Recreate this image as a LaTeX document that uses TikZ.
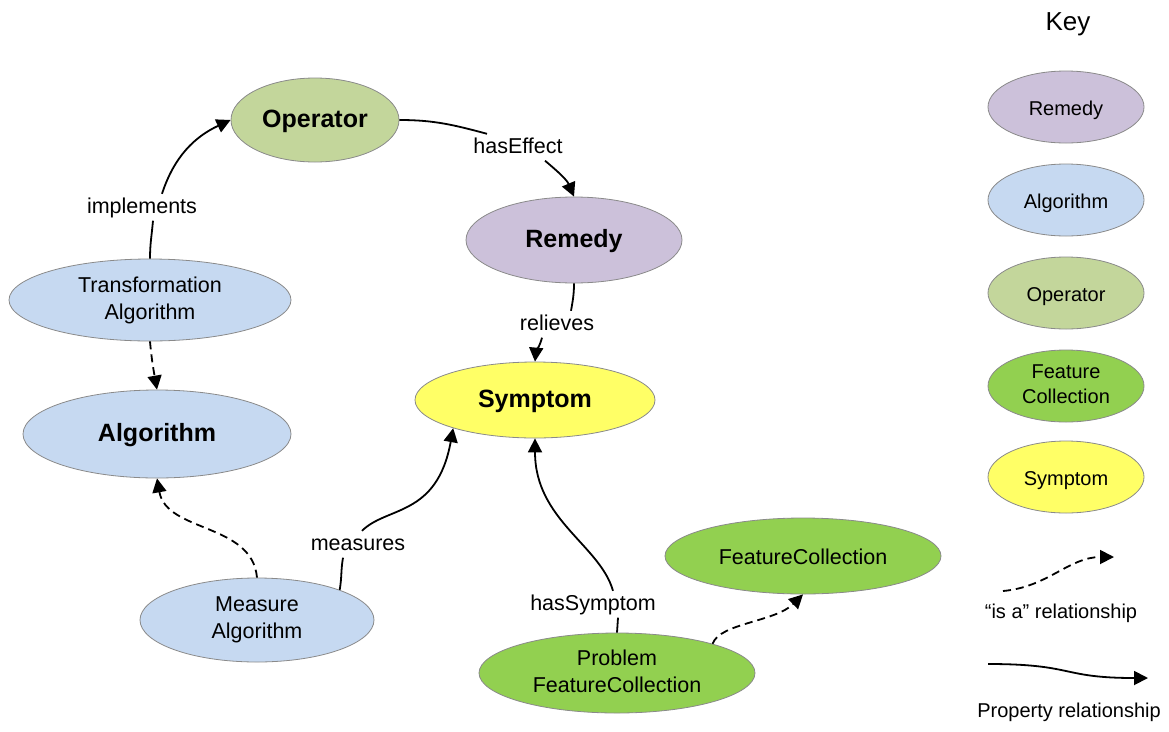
\documentclass[tikz,border=0pt]{standalone}
\usepackage{fontspec}
\setmainfont{Liberation Sans}
\usetikzlibrary{shapes.geometric,arrows.meta}

\definecolor{opgreen}{HTML}{C3D69B}
\definecolor{remlav}{HTML}{CCC1DA}
\definecolor{algblue}{HTML}{C6D9F1}
\definecolor{symyel}{HTML}{FFFF66}
\definecolor{fcgreen}{HTML}{92D050}
\definecolor{rim}{HTML}{8A8A8A}

\begin{document}
\begin{tikzpicture}[x=1pt,y=1pt,
  concept/.style={ellipse, draw=rim, line width=0.8pt, inner sep=0pt, align=center,
                  font=\fontsize{21.5}{27}\selectfont,
                  execute at begin node={\rule{0pt}{21pt}},
                  execute at end node={\rule[-4pt]{0pt}{4pt}}},
  big/.style={font=\fontsize{25}{30}\selectfont\bfseries},
  keyitem/.style={concept, minimum width=156pt, minimum height=72pt,
                  font=\fontsize{20}{25}\selectfont},
  rel/.style={inner xsep=2pt, inner ysep=3pt, anchor=base, text height=16pt,
              text depth=4.5pt, font=\fontsize{21.5}{26}\selectfont},
  keytext/.style={anchor=base, inner sep=0pt, font=\fontsize{20}{24}\selectfont},
  plain/.style={line width=1.8pt},
  prop/.style={line width=1.8pt, -{Triangle[length=14pt,width=14pt]}},
  isa/.style={prop, dash pattern=on 8pt off 5pt},
]
\useasboundingbox (0,0) rectangle (1169,-731);

% concept nodes
\node[concept, big, fill=opgreen, minimum width=168pt, minimum height=84pt] (op) at (315,-120) {Operator};
\node[concept, big, fill=remlav, minimum width=216pt, minimum height=86pt] (re) at (574,-240) {Remedy};
\node[concept, fill=algblue, minimum width=282pt, minimum height=82pt] (ta) at (150,-300) {Transformation\\Algorithm};
\node[concept, big, fill=algblue, minimum width=268pt, minimum height=88pt] (alg) at (157,-434) {Algorithm};
\node[concept, fill=algblue, minimum width=234pt, minimum height=84pt] (ma) at (257,-620) {Measure\\Algorithm};
\node[concept, big, fill=symyel, minimum width=240pt, minimum height=76pt] (sy) at (535,-400) {Symptom};
\node[concept, fill=fcgreen, minimum width=276pt, minimum height=76pt] (fc) at (803,-556) {FeatureCollection};
\node[concept, fill=fcgreen, minimum width=276pt, minimum height=80pt] (pfc) at (617,-673) {Problem\\FeatureCollection};

% relationship labels
\node[rel] (imp) at (142,-213) {implements};
\node[rel] (he) at (518,-153) {hasEffect};
\node[rel] (rl) at (557,-330) {relieves};
\node[rel] (meas) at (358,-550) {measures};
\node[rel] (hs) at (593,-610) {hasSymptom};

% property relationships
\draw[plain] (ta.north) to[out=90,in=-95] ([xshift=11pt]imp.south);
\draw[prop] ([xshift=20pt]imp.north) to[out=72,in=205] (op.west);

\draw[plain] (op.east) to[out=0,in=165] ([xshift=-31pt]he.north);
\draw[prop] ([xshift=27pt]he.south) to[out=-40,in=113] (re.north);

\draw[plain] (re.south) to[out=-90,in=80] ([xshift=14pt]rl.north);
\draw[prop] ([xshift=-15pt]rl.south) to[out=-105,in=85] (sy.north);

\draw[plain] (ma.20) to[out=80,in=-100] ([xshift=-15pt]meas.south);
\draw[prop] ([xshift=4pt]meas.north) .. controls (387,-506) and (437,-517) .. (sy.199);

\draw[plain] (pfc.north) -- ([xshift=25pt]hs.south);
\draw[prop] ([xshift=20pt]hs.north) .. controls (600,-545) and (535,-520) .. (sy.south);

% "is a" relationships
\draw[isa] (ta.south) to[out=-85,in=100] (alg.north);
\draw[isa] (ma.north) to[out=95,in=-80] (alg.south);
\draw[isa] (pfc.17) .. controls (720,-623) and (775,-622) .. (fc.south);

% key
\node[anchor=base, inner sep=0pt, font=\fontsize{26}{30}\selectfont] (keyt) at (1068,-30) {Key};
\node[keyitem, fill=remlav] (kre) at (1066,-107) {Remedy};
\node[keyitem, fill=algblue] (kalg) at (1066,-200) {Algorithm};
\node[keyitem, fill=opgreen] (kop) at (1066,-293) {Operator};
\node[keyitem, fill=fcgreen] (kfc) at (1066,-386) {Feature\\Collection};
\node[keyitem, fill=symyel] (ksy) at (1066,-477) {Symptom};

\coordinate (isaA) at (1003,-591);
\coordinate (isaB) at (1114,-557);
\draw[isa] (isaA) .. controls (1048,-587) and (1069,-557) .. (isaB);
\node[keytext] (isatxt) at (1061,-618) {“is a” relationship};

\coordinate (propA) at (988,-664);
\coordinate (propB) at (1148,-678);
\draw[prop] (propA) .. controls (1075,-664) and (1060,-678) .. (propB);
\node[keytext] (proptxt) at (1069,-717) {Property relationship};
\end{tikzpicture}
\end{document}
